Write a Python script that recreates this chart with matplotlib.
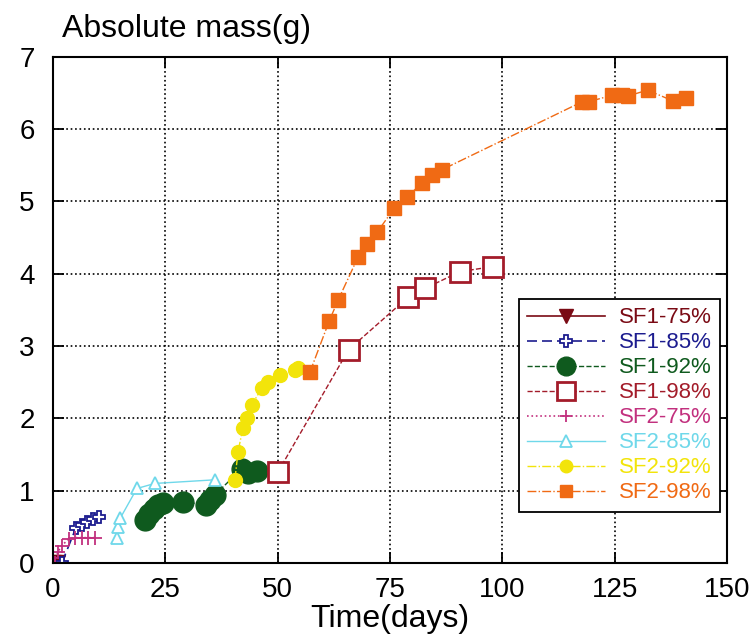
import matplotlib.pyplot as plt
import numpy as np

plt.rcParams['font.family'] = ['Liberation Sans', 'DejaVu Sans']

# data (days, grams)
sf1_75_t = [0.0, 1.0]
sf1_75_m = [0.0, 0.0]
sf1_85_t = [2.0, 5.1, 6.5, 7.7, 8.9, 10.2]
sf1_85_m = [0.0, 0.48, 0.53, 0.57, 0.61, 0.64]
sf1_92_t = [20.5, 21.5, 22.5, 23.5, 24.5, 29.0, 34.0, 35.0, 36.0, 42.0, 43.5, 45.5]
sf1_92_m = [0.60, 0.68, 0.75, 0.80, 0.83, 0.85, 0.80, 0.87, 0.94, 1.30, 1.25, 1.27]
sf1_98_t = [50.1, 65.8, 79.1, 82.9, 90.6, 98.0]
sf1_98_m = [1.26, 2.95, 3.68, 3.80, 4.03, 4.10]
sf2_75_t = [0.5, 1.1, 2.0, 3.5, 4.9, 6.5, 7.8, 9.4]
sf2_75_m = [0.0, 0.15, 0.24, 0.33, 0.35, 0.35, 0.35, 0.35]
sf2_85_t = [14.2, 14.5, 15.0, 18.7, 22.7, 36.0]
sf2_85_m = [0.35, 0.50, 0.62, 1.03, 1.10, 1.15]
sf2_92_t = [40.5, 41.2, 42.3, 43.2, 44.3, 46.5, 47.9, 50.5, 53.9, 54.6]
sf2_92_m = [1.15, 1.54, 1.87, 2.00, 2.19, 2.42, 2.50, 2.60, 2.67, 2.70]
sf2_98_t = [57.2, 61.5, 63.5, 67.9, 69.9, 72.2, 76.0, 78.8, 82.2, 84.4, 86.6,
            117.8, 119.2, 124.5, 126.7, 128.0, 132.3, 138.0, 140.8]
sf2_98_m = [2.64, 3.35, 3.64, 4.23, 4.41, 4.58, 4.91, 5.06, 5.26, 5.37, 5.44,
            6.38, 6.38, 6.47, 6.47, 6.46, 6.54, 6.39, 6.43]

labels = ['SF1-75%', 'SF1-85%', 'SF1-92%', 'SF1-98%',
          'SF2-75%', 'SF2-85%', 'SF2-92%', 'SF2-98%']
colors = ['#7a0a14', '#1c1c8f', '#0f5a1e', '#a31c2a',
          '#c2307e', '#6fd8ea', '#f2e40a', '#f06a14']

fig = plt.figure(figsize=(7.55, 6.39), dpi=100)
ax = fig.add_axes([0.070, 0.119, 0.893, 0.792])

ax.plot(sf1_75_t, sf1_75_m, '-', color=colors[0], marker='v', ms=11, lw=1.2, label=labels[0])
ax.plot(sf1_85_t, sf1_85_m, color=colors[1], ls=(0, (6, 3)), marker='P', ms=9,
        mfc='white', mec=colors[1], mew=1.3, lw=1.2, label=labels[1])
ax.plot(sf1_92_t, sf1_92_m, '--', color=colors[2], marker='o', ms=15, lw=1.0, label=labels[2])
ax.plot(sf1_98_t, sf1_98_m, '--', color=colors[3], marker='s', ms=14, mfc='white',
        mec=colors[3], mew=2.0, lw=1.0, label=labels[3])
ax.plot(sf2_75_t, sf2_75_m, ':', color=colors[4], marker='+', ms=10, mew=1.3, lw=1.2, label=labels[4])
ax.plot(sf2_85_t, sf2_85_m, '-', color=colors[5], marker='^', ms=9, mfc='white',
        mec=colors[5], mew=1.3, lw=1.0, label=labels[5])
ax.plot(sf2_92_t, sf2_92_m, '-.', color=colors[6], marker='o', ms=10, lw=1.0, label=labels[6])
ax.plot(sf2_98_t, sf2_98_m, '-.', color=colors[7], marker='s', ms=10, lw=1.0, label=labels[7])

ax.set_xlim(0, 150)
ax.set_ylim(0, 7)
ax.set_xticks(np.arange(0, 151, 25))
ax.set_yticks(np.arange(0, 8, 1))
ax.tick_params(direction='in', length=8, width=1.3, top=True, right=True,
               labelsize=20)
ax.tick_params(axis='x', pad=10)
ax.tick_params(axis='y', pad=13)
ax.grid(True, color='black', ls=':', lw=1.2)
for s in ax.spines.values():
    s.set_linewidth(1.5)

ax.set_xlabel('Time(days)', fontsize=23, labelpad=1)
fig.text(0.082, 0.942, 'Absolute mass(g)', fontsize=23, va='baseline', ha='left')

leg = ax.legend(loc='lower right', bbox_to_anchor=(0.99, 0.10), fontsize=16,
                frameon=True, fancybox=False, edgecolor='black', framealpha=1,
                handlelength=3.5, labelspacing=0.18, borderpad=0.4, handletextpad=0.6,
                markerscale=0.9, borderaxespad=0)
leg.get_frame().set_linewidth(1.3)
for txt, c in zip(leg.get_texts(), colors):
    txt.set_color(c)

fig.savefig('out.png', dpi=100)
